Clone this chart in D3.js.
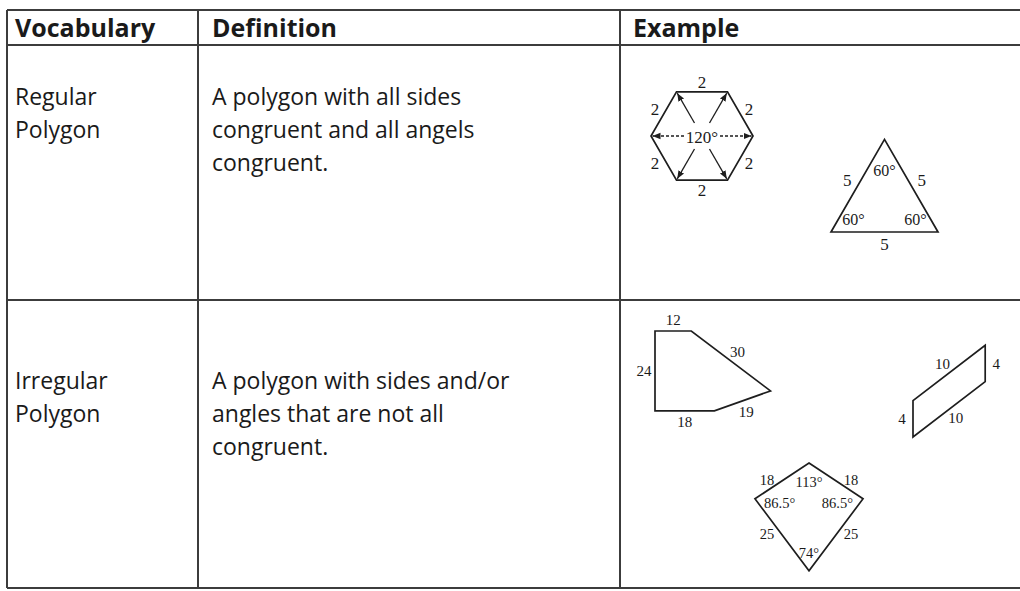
<!DOCTYPE html>
<html>
<head>
<meta charset="utf-8">
<script src="https://cdn.jsdelivr.net/npm/d3@7"></script>
<style>
  body { margin: 0; background: #fff; }
  .cell { font-family: "Open Sans", sans-serif; fill: #1a1a1a; }
  .head { font-weight: bold; font-size: 25px; }
  .body { font-size: 23px; }
  .grid { stroke: #3c3c3c; stroke-width: 2; }
  .fig { fill: none; stroke: #1e1e1e; stroke-width: 1.7; stroke-linejoin: miter; }
  .lbl { font-family: "Liberation Serif", serif; fill: #1a1a1a; text-anchor: middle; }
</style>
</head>
<body>
<div id="chart"></div>
<script>
// ---- table content ----
const headers = ["Vocabulary", "Definition", "Example"];
const terms = [["Regular", "Polygon"], ["Irregular", "Polygon"]];
const definitions = [
  ["A polygon with all sides", "congruent and all angels", "congruent."],
  ["A polygon with sides and/or", "angles that are not all", "congruent."]
];

// ---- regular figures ----
const hexSide = 2, hexAngle = 120;
const hexSideLabels = ["2", "2", "2", "2", "2", "2"];
const triSide = 5, triAngle = 60;

// ---- irregular figures ----
const pentSides = [12, 30, 19, 18, 24];                    // top, slant, lower slant, bottom, left
const pentPoints = [[0, 0], [11, 0], [35, 18], [18, 24], [0, 24]];
const paraSides = [10, 4], paraSlant = 37.5;
const kiteSides = [18, 25], kiteAngles = [113, 86.5, 74];  // top, sides, bottom

// Canvas
const W = 1020, H = 591;
const colX = [7, 198, 620];
const rowY = [10, 45, 300, 588];
const lineStep = 33;

let svg = d3.select("#chart").append("svg")
  .attr("width", W)
  .attr("height", H);

svg.append("rect").attr("width", W).attr("height", H).attr("fill", "white");

// arrow head for the hexagon
svg.append("defs").append("marker")
  .attr("id", "arrow")
  .attr("viewBox", "0 0 10 10")
  .attr("refX", 10).attr("refY", 5)
  .attr("markerWidth", 8).attr("markerHeight", 8)
  .attr("markerUnits", "userSpaceOnUse")
  .attr("orient", "auto")
  .append("path")
  .attr("d", "M0,1 L10,5 L0,9 z")
  .attr("fill", "#1e1e1e");

// ---- grid ----
svg.selectAll(".hline")
  .data(rowY).enter().append("line")
  .attr("class", "grid")
  .attr("x1", colX[0]).attr("x2", W)
  .attr("y1", d => d).attr("y2", d => d);

svg.selectAll(".vline")
  .data(colX).enter().append("line")
  .attr("class", "grid")
  .attr("x1", d => d).attr("x2", d => d)
  .attr("y1", rowY[0]).attr("y2", rowY[3]);

// ---- text ----
const textPad = [8, 14, 13];
svg.selectAll(".head")
  .data(headers).enter().append("text")
  .attr("class", "cell head")
  .attr("x", (d, i) => colX[i] + textPad[i])
  .attr("y", 37)
  .text(d => d);

const rowBase = [105, 389];
terms.forEach((lines, r) => {
  svg.append("g").selectAll("text")
    .data(lines).enter().append("text")
    .attr("class", "cell body")
    .attr("x", colX[0] + textPad[0])
    .attr("y", (d, i) => rowBase[r] + i * lineStep)
    .text(d => d);
});
definitions.forEach((lines, r) => {
  svg.append("g").selectAll("text")
    .data(lines).enter().append("text")
    .attr("class", "cell body")
    .attr("x", colX[1] + textPad[1])
    .attr("y", (d, i) => rowBase[r] + i * lineStep)
    .text(d => d);
});

// ---- figure helpers ----
function centroid(pts) {
  return [d3.mean(pts, p => p[0]), d3.mean(pts, p => p[1])];
}

function drawPolygon(pts) {
  svg.append("path")
    .attr("class", "fig")
    .attr("d", d3.line()(pts) + "Z");
}

// side labels: off = distance along outward normal, or {h: n} for a horizontal shift
function sideLabels(pts, labels, off, size) {
  let c = centroid(pts);
  labels.forEach((txt, i) => {
    if (txt == null) return;
    let a = pts[i], b = pts[(i + 1) % pts.length];
    let m = [(a[0] + b[0]) / 2, (a[1] + b[1]) / 2];
    let pos;
    if (typeof off === "object") {
      pos = [m[0] + Math.sign(m[0] - c[0]) * off.h, m[1] + (off.dy || 0)];
    } else {
      let dx = b[0] - a[0], dy = b[1] - a[1], len = Math.hypot(dx, dy);
      let n = [dy / len, -dx / len];
      if ((m[0] - c[0]) * n[0] + (m[1] - c[1]) * n[1] < 0) n = [-n[0], -n[1]];
      pos = [m[0] + n[0] * off, m[1] + n[1] * off];
    }
    svg.append("text").attr("class", "lbl")
      .attr("x", pos[0]).attr("y", pos[1]).attr("dy", "0.35em")
      .style("font-size", size + "px")
      .text(txt);
  });
}

function angleLabels(pts, labels, dist, size) {
  let c = centroid(pts);
  labels.forEach((txt, i) => {
    if (txt == null) return;
    let v = pts[i];
    let dx = c[0] - v[0], dy = c[1] - v[1], len = Math.hypot(dx, dy);
    let d = Array.isArray(dist) ? dist[i] : dist;
    svg.append("text").attr("class", "lbl")
      .attr("x", v[0] + dx / len * d).attr("y", v[1] + dy / len * d).attr("dy", "0.35em")
      .style("font-size", size + "px")
      .text(txt);
  });
}

const rad = deg => deg * Math.PI / 180;

// ---- Hexagon ----
let hex = {cx: 702, cy: 136, unit: 25.5};
hex.x = d3.scaleLinear().domain([0, 1]).range([hex.cx, hex.cx + hex.unit]);
hex.y = d3.scaleLinear().domain([0, 1]).range([hex.cy, hex.cy - hex.unit]);
let hexPts = d3.range(6).map(k => {
  let a = rad(k * (180 - hexAngle));
  return [hex.x(hexSide * Math.cos(a)), hex.y(hexSide * Math.sin(a))];
});
drawPolygon(hexPts);
// arrows from the centre to each vertex
hexPts.forEach((p, k) => {
  let dx = p[0] - hex.cx, dy = p[1] - hex.cy, len = Math.hypot(dx, dy);
  let ux = dx / len, uy = dy / len;
  let r0 = (k % 3 === 0) ? 18 : 15;
  svg.append("line")
    .attr("x1", hex.cx + ux * r0).attr("y1", hex.cy + uy * r0)
    .attr("x2", p[0] - ux * 1.5).attr("y2", p[1] - uy * 1.5)
    .attr("stroke", "#1e1e1e").attr("stroke-width", 1.3)
    .attr("stroke-dasharray", (k % 3 === 0) ? "3,2" : null)
    .attr("marker-end", "url(#arrow)");
});
svg.append("text").attr("class", "lbl")
  .attr("x", hex.cx).attr("y", hex.cy + 1).attr("dy", "0.35em")
  .style("font-size", "17px")
  .text(hexAngle + "°");
sideLabels(hexPts, hexSideLabels, 10, 17);

// ---- Triangle ----
let tri = {ox: 831, oy: 232, unit: 21.4};
tri.x = d3.scaleLinear().domain([0, 1]).range([tri.ox, tri.ox + tri.unit]);
tri.y = d3.scaleLinear().domain([0, 1]).range([tri.oy, tri.oy - tri.unit]);
let triPts = [
  [tri.x(0), tri.y(0)],
  [tri.x(triSide * Math.cos(rad(triAngle))), tri.y(triSide * Math.sin(rad(triAngle)))],
  [tri.x(triSide), tri.y(0)]
];
drawPolygon(triPts);
sideLabels(triPts, [triSide, triSide, triSide], 12, 17);
angleLabels(triPts, [triAngle + "°", triAngle + "°", triAngle + "°"], [26, 31, 26], 16);

// ---- Pentagon ----
let pent = {ox: 655, oy: 331, ux: 3.3, uy: 3.33};
pent.x = d3.scaleLinear().domain([0, 1]).range([pent.ox, pent.ox + pent.ux]);
pent.y = d3.scaleLinear().domain([0, 1]).range([pent.oy, pent.oy + pent.uy]);
let pentPts = pentPoints.map(p => [pent.x(p[0]), pent.y(p[1])]);
drawPolygon(pentPts);
sideLabels(pentPts, pentSides, 11, 15);

// ---- Parallelogram ----
let para = {ox: 913, oy: 437, unit: 9.1};
para.x = d3.scaleLinear().domain([0, 1]).range([para.ox, para.ox + para.unit]);
para.y = d3.scaleLinear().domain([0, 1]).range([para.oy, para.oy - para.unit]);
let sx = paraSides[0] * Math.cos(rad(paraSlant)), sy = paraSides[0] * Math.sin(rad(paraSlant));
let paraPts = [
  [para.x(0), para.y(0)],
  [para.x(0), para.y(paraSides[1])],
  [para.x(sx), para.y(sy + paraSides[1])],
  [para.x(sx), para.y(sy)]
];
drawPolygon(paraPts);
sideLabels(paraPts, [paraSides[1], paraSides[0], paraSides[1], paraSides[0]], 11, 15);

// ---- Kite ----
let kite = {ox: 809, oy: 463, unit: 3.6};
kite.x = d3.scaleLinear().domain([0, 1]).range([kite.ox, kite.ox + kite.unit]);
kite.y = d3.scaleLinear().domain([0, 1]).range([kite.oy, kite.oy + kite.unit]);
let half = rad(kiteAngles[0] / 2);
let kx = kiteSides[0] * Math.sin(half), ky = kiteSides[0] * Math.cos(half);
let kb = ky + Math.sqrt(kiteSides[1] * kiteSides[1] - kx * kx);
let kitePts = [
  [kite.x(0), kite.y(0)],
  [kite.x(kx), kite.y(ky)],
  [kite.x(0), kite.y(kb)],
  [kite.x(-kx), kite.y(ky)]
];
drawPolygon(kitePts);
sideLabels(kitePts, [kiteSides[0], kiteSides[1], kiteSides[1], kiteSides[0]], {h: 15, dy: -1}, 14.5);
angleLabels(kitePts,
  [kiteAngles[0] + "°", kiteAngles[1] + "°", kiteAngles[2] + "°", kiteAngles[1] + "°"],
  [19, 26, 18, 25], 14.5);
</script>
</body>
</html>
